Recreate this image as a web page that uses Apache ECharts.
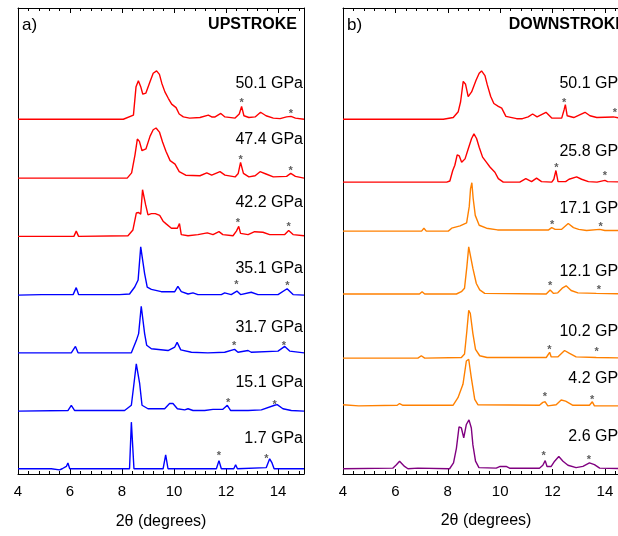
<!DOCTYPE html>
<html>
<head>
<meta charset="utf-8">
<script src="https://cdn.jsdelivr.net/npm/echarts@6/dist/echarts.min.js"></script>
<style>
html,body{margin:0;padding:0;background:#fff;}
#chart{width:618px;height:536px;}
</style>
</head>
<body>
<div id="chart"></div>
<script>
// ---------- DATA (2θ in degrees, intensity in stack units) ----------
// Upstroke patterns
const up_50_1 = [[4,0],[8.05,0],[8.44,0.07],[8.54,0.56],[8.63,0.66],[8.72,0.56],[8.8,0.43],[8.92,0.45],[9.08,0.65],[9.2,0.79],[9.33,0.83],[9.44,0.77],[9.53,0.62],[9.65,0.47],[9.78,0.36],[9.91,0.26],[10.08,0.2],[10.2,0.09],[10.36,0.04],[10.6,0.02],[11.0,0.03],[11.32,0.07],[11.45,0.04],[11.58,0.04],[11.8,0.1],[11.96,0.04],[12.35,0.02],[12.51,0.09],[12.6,0.22],[12.69,0.06],[12.88,0.03],[13.12,0.04],[13.33,0.12],[13.54,0.06],[13.82,0.02],[14.08,0.01],[14.33,0.04],[14.5,0.05],[14.67,0.02],[15,0]];
const up_47_4 = [[4,0],[8.2,0],[8.37,0.09],[8.5,0.4],[8.59,0.67],[8.67,0.63],[8.77,0.47],[8.92,0.5],[9.08,0.72],[9.2,0.83],[9.31,0.86],[9.44,0.79],[9.56,0.62],[9.69,0.46],[9.85,0.3],[10.04,0.24],[10.2,0.11],[10.45,0.05],[11.0,0.04],[11.26,0.09],[11.45,0.05],[11.77,0.11],[11.96,0.05],[12.35,0.02],[12.47,0.08],[12.56,0.27],[12.67,0.08],[12.88,0.02],[13.12,0.04],[13.31,0.11],[13.54,0.07],[13.82,0.02],[14.33,0.03],[14.49,0.08],[14.67,0.03],[15,0]];
const up_42_2 = [[4,0],[6.15,0],[6.24,0.09],[6.33,0],[8.23,0.01],[8.42,0.11],[8.55,0.4],[8.64,0.41],[8.72,0.38],[8.79,0.8],[8.85,0.81],[8.91,0.54],[9.0,0.37],[9.13,0.39],[9.28,0.39],[9.45,0.36],[9.58,0.26],[9.71,0.21],[9.9,0.14],[10.13,0.14],[10.21,0.22],[10.28,0.03],[10.54,0.01],[10.92,0.03],[11.28,0.06],[11.5,0.03],[11.73,0.08],[11.88,0.03],[12.27,0.01],[12.4,0.09],[12.49,0.17],[12.56,0.05],[12.85,0.03],[13.1,0.08],[13.42,0.07],[13.68,0.03],[14.26,0.03],[14.41,0.1],[14.58,0.03],[15,0.01]];
const up_35_1 = [[4,0],[4.9,0.01],[5.3,0.01],[6.12,0.01],[6.24,0.13],[6.33,0.01],[7.5,0.01],[7.9,0.01],[8.29,0.02],[8.49,0.14],[8.62,0.26],[8.72,0.83],[8.79,0.83],[8.87,0.37],[8.97,0.14],[9.13,0.1],[9.51,0.06],[10.03,0.06],[10.15,0.15],[10.28,0.06],[10.54,0.02],[10.73,0.04],[10.92,0.01],[11.82,0.01],[11.95,0.04],[12.2,0.01],[12.42,0.07],[12.56,0.01],[12.97,0.05],[13.23,0.01],[14.0,0.01],[14.35,0.11],[14.58,0.01],[15,0]];
const up_31_7 = [[4,0],[6.05,0],[6.21,0.11],[6.31,0],[8.36,0],[8.55,0.21],[8.64,0.33],[8.74,0.8],[8.81,0.8],[8.87,0.33],[8.95,0.13],[9.13,0.07],[9.77,0.04],[10.03,0.1],[10.12,0.18],[10.26,0.05],[10.67,0.01],[11.3,0],[11.95,0.01],[12.33,0.06],[12.46,0.01],[12.85,0.04],[12.97,0.01],[14.0,0.03],[14.26,0.11],[14.45,0.03],[15,0]];
const up_15_1 = [[4,0],[5.92,0.01],[6.05,0.1],[6.18,0.01],[8.1,0.01],[8.36,0.1],[8.46,0.47],[8.55,0.81],[8.62,0.81],[8.68,0.47],[8.77,0.1],[9.0,0.04],[9.64,0.04],[9.83,0.13],[9.96,0.13],[10.13,0.04],[10.41,0.02],[10.54,0.04],[10.73,0.01],[11.18,0.01],[11.5,0.03],[11.88,0.03],[12.05,0.1],[12.18,0.01],[12.85,0.01],[13.36,0.02],[13.87,0.1],[13.97,0.11],[14.19,0.04],[14.51,0.01],[15,0]];
const up_1_7 = [[4,0],[5.28,0],[5.32,-0.02],[5.6,-0.02],[5.7,0],[5.86,0.04],[5.92,0.1],[5.99,0],[8.29,0],[8.36,0.8],[8.42,0.8],[8.46,0],[9.58,0],[9.68,0.24],[9.77,0],[11.63,0],[11.73,0.14],[11.82,0],[12.3,0],[12.37,0.07],[12.44,0],[13.55,0.02],[13.68,0.17],[13.77,0.1],[13.85,0],[15,0]];

// Downstroke patterns
const dn_50_1 = [[4,0],[7.83,0],[8.21,0.03],[8.4,0.13],[8.49,0.3],[8.59,0.65],[8.68,0.6],[8.78,0.39],[8.91,0.47],[9.08,0.67],[9.2,0.79],[9.29,0.83],[9.42,0.75],[9.51,0.59],[9.64,0.39],[9.76,0.27],[9.93,0.22],[10.06,0.19],[10.22,0.05],[10.63,0.01],[10.85,0.01],[11.07,0.04],[11.24,0.09],[11.41,0.04],[11.75,0.12],[11.97,0.02],[12.35,0.02],[12.44,0.16],[12.49,0.25],[12.56,0.06],[12.81,0.03],[13.24,0.12],[13.43,0.06],[13.69,0.03],[14.32,0.04],[14.6,0.02],[15,0]];
const dn_25_8 = [[4,0],[7.96,0],[8.08,0.02],[8.19,0.2],[8.27,0.29],[8.36,0.47],[8.44,0.45],[8.53,0.34],[8.66,0.4],[8.78,0.57],[8.91,0.75],[9.0,0.83],[9.1,0.75],[9.2,0.6],[9.33,0.43],[9.48,0.34],[9.61,0.26],[9.8,0.17],[9.93,0.06],[10.12,0],[10.75,0],[10.98,0.06],[11.2,0.01],[11.39,0.07],[11.58,0.01],[11.97,0],[12.05,0.05],[12.13,0.2],[12.21,0.01],[12.5,0.01],[12.63,0.05],[12.92,0.09],[13.11,0.05],[13.37,0.01],[13.7,0],[14.0,0.03],[14.1,0.01],[15,0]];
const dn_17_1 = [[4,0],[7.0,0],[7.09,0.05],[7.18,0],[8.02,0],[8.15,0.05],[8.47,0.09],[8.72,0.14],[8.82,0.42],[8.87,0.73],[8.92,0.83],[8.97,0.56],[9.05,0.27],[9.2,0.1],[9.48,0.05],[9.9,0.02],[10.5,0.02],[11.3,0.02],[11.85,0.02],[11.97,0.06],[12.1,0.03],[12.35,0.03],[12.6,0.13],[12.8,0.06],[13.0,0.03],[13.3,0.01],[13.8,0.03],[14.0,0.01],[15,0.01]];
const dn_12_1 = [[4,0],[6.92,0],[7.02,0.04],[7.12,0],[8.33,0],[8.52,0.04],[8.64,0.1],[8.73,0.47],[8.8,0.81],[8.86,0.79],[8.96,0.44],[9.09,0.18],[9.22,0.07],[9.41,0.01],[11.76,0],[11.91,0.07],[12.04,0.01],[12.2,0.02],[12.37,0.1],[12.52,0.14],[12.71,0.06],[12.97,0.02],[13.67,0.01],[15,0]];
const dn_10_2 = [[4,0],[6.86,0],[6.99,0.04],[7.12,0],[8.52,0.01],[8.64,0.07],[8.73,0.47],[8.8,0.82],[8.86,0.77],[8.96,0.42],[9.06,0.15],[9.22,0.04],[9.5,0.01],[11.76,0.01],[11.89,0.1],[11.95,0.02],[12.2,0.02],[12.46,0.13],[12.65,0.08],[12.9,0.02],[13.67,0.01],[15,0]];
const dn_4_2 = [[4,0.02],[4.6,0],[6.07,0.01],[6.16,0.04],[6.29,0.01],[6.93,0.01],[8.2,0.01],[8.39,0.14],[8.58,0.37],[8.71,0.77],[8.8,0.8],[8.9,0.48],[9.03,0.11],[9.15,0.02],[11.5,0.01],[11.63,0.06],[11.72,0.07],[11.82,0],[12.14,0.02],[12.33,0.1],[12.5,0.08],[12.78,0.01],[13.41,0.01],[13.52,0.07],[13.6,0],[15,0]];
const dn_2_6 = [[4,0],[5.9,0.01],[6.04,0.07],[6.16,0.13],[6.35,0.04],[6.48,0],[6.86,0.01],[8.07,0],[8.22,0.1],[8.33,0.35],[8.43,0.72],[8.52,0.7],[8.61,0.53],[8.71,0.76],[8.81,0.84],[8.9,0.7],[8.96,0.41],[9.06,0.13],[9.19,0.02],[9.85,0.01],[10.0,0.04],[10.23,0.04],[10.36,0.01],[11.5,0.01],[11.63,0.06],[11.72,0.14],[11.79,0.04],[11.95,0.04],[12.08,0.13],[12.24,0.21],[12.4,0.13],[12.59,0.06],[12.9,0.02],[13.16,0.04],[13.41,0.1],[13.6,0.07],[13.8,0.01],[15,0]];

// pressures (top to bottom)
const upPressures = ['50.1 GPa','47.4 GPa','42.2 GPa','35.1 GPa','31.7 GPa','15.1 GPa','1.7 GPa'];
const dnPressures = ['50.1 GPa','25.8 GPa','17.1 GPa','12.1 GPa','10.2 GPa','4.2 GPa','2.6 GPa'];
const upPatterns = [up_50_1, up_47_4, up_42_2, up_35_1, up_31_7, up_15_1, up_1_7];
const dnPatterns = [dn_50_1, dn_25_8, dn_17_1, dn_12_1, dn_10_2, dn_4_2, dn_2_6];

// reference-peak markers (*) : [2θ, height above baseline]
const upStars = [
  [[12.6,0.33],[14.5,0.14]],
  [[12.56,0.37],[14.49,0.17]],
  [[12.46,0.28],[14.41,0.21]],
  [[12.4,0.22],[14.36,0.21]],
  [[12.31,0.17],[14.23,0.17]],
  [[12.08,0.19],[13.87,0.16]],
  [[11.73,0.27],[13.55,0.22]]
];
const dnStars = [
  [[12.44,0.33],[14.38,0.16]],
  [[12.15,0.30],[14.0,0.15]],
  [[11.99,0.16],[13.84,0.12]],
  [[11.91,0.19],[13.77,0.12]],
  [[11.88,0.19],[13.68,0.15]],
  [[11.71,0.20],[13.51,0.15]],
  [[11.66,0.27],[13.39,0.21]]
];

// ---------- LAYOUT / STYLE ----------
const upOffsets = [6.09, 5.08, 4.08, 3.07, 2.08, 1.08, 0.09];
const dnOffsets = [6.09, 5.01, 4.17, 3.09, 1.99, 1.17, 0.09];
const upColors = ['#ff0000','#ff0000','#ff0000','#0000ff','#0000ff','#0000ff','#0000ff'];
const dnColors = ['#ff0000','#ff0000','#ff8000','#ff8000','#ff8000','#ff8000','#800080'];
const upLabelY = [84, 140, 203, 269, 328, 383, 439];
const dnLabelY = [84, 152, 209, 272, 332, 379, 437];

const FONT = '"Liberation Sans", Arial, sans-serif';
// right panel is cut by the page edge: visible part spans 4 .. 14.5
const G = [{left:18, top:8, width:286, height:466},{left:343, top:8, width:275, height:466}];
const X_MAX = [15, 14.5];
const AXIS_NAME = '2θ (degrees)';

function xAx(gi, pos, labels, withName){
  return {
    type:'value', gridIndex:gi, position:pos, min:4, max:X_MAX[gi], interval:2,
    axisLine:{show:true, onZero:false, lineStyle:{color:'#000', width:1}},
    axisTick:{show:true, inside:true, length:5, lineStyle:{color:'#000'}},
    minorTick:{show:true, splitNumber:5, length:3, lineStyle:{color:'#000'}},
    splitLine:{show:false},
    axisLabel:{show:labels, color:'#000', fontSize:15, fontFamily:FONT, margin:10, showMaxLabel:false},
    name: withName ? AXIS_NAME : '',
    nameLocation:'middle', nameGap:40,
    nameTextStyle:{color:'#000', fontSize:16, fontFamily:FONT}
  };
}
function yAx(gi, pos, show){
  return {
    type:'value', gridIndex:gi, position:pos, min:0, max:8,
    axisLine:{show:show, onZero:false, lineStyle:{color:'#000', width:1}},
    axisTick:{show:false}, axisLabel:{show:false}, splitLine:{show:false}
  };
}

const series = [];
function addPanel(patterns, offsets, colors, stars, gi){
  patterns.forEach((pat, i) => {
    series.push({
      type:'line', xAxisIndex:gi*2, yAxisIndex:gi*2, showSymbol:false, silent:true, clip:true,
      lineStyle:{color:colors[i], width:1.4}, animation:false,
      data: pat.map(p => [p[0], p[1] + offsets[i]])
    });
  });
  const starData = [];
  stars.forEach((arr, i) => arr.forEach(s => starData.push([s[0], s[1] + offsets[i]])));
  series.push({
    type:'scatter', xAxisIndex:gi*2, yAxisIndex:gi*2, symbolSize:1, silent:true,
    itemStyle:{color:'rgba(0,0,0,0)'}, animation:false,
    label:{show:true, formatter:'*', position:'inside', color:'#333', fontSize:11, fontWeight:'bold', fontFamily:FONT, offset:[0,3]},
    data: starData
  });
}
addPanel(upPatterns, upOffsets, upColors, upStars, 0);
addPanel(dnPatterns, dnOffsets, dnColors, dnStars, 1);

const graphic = [];
function txt(x, y, text, align, size, weight){
  graphic.push({type:'text', x:x, y:y, silent:true,
    style:{text:text, fill:'#000', font:(weight||'normal') + ' ' + size + 'px ' + FONT, textAlign:align, textVerticalAlign:'middle'}});
}
txt(22, 25, 'a)', 'left', 17);
txt(297, 25, 'UPSTROKE', 'right', 16, 'bold');
txt(347, 25, 'b)', 'left', 17);
txt(626, 25, 'DOWNSTROKE', 'right', 16, 'bold');
txt(486, 521, AXIS_NAME, 'center', 16);   // centred on the full (page-cut) right panel
upPressures.forEach((t,i) => txt(303, upLabelY[i], t, 'right', 16));
dnPressures.forEach((t,i) => txt(627, dnLabelY[i], t, 'right', 16));

const chart = echarts.init(document.getElementById('chart'), null, {renderer:'canvas'});
chart.setOption({
  animation:false,
  backgroundColor:'#fff',
  grid:G,
  xAxis:[xAx(0,'bottom',true,true), xAx(0,'top',false,false), xAx(1,'bottom',true,false), xAx(1,'top',false,false)],
  yAxis:[yAx(0,'left',true), yAx(0,'right',true), yAx(1,'left',true), yAx(1,'right',false)],
  series:series,
  graphic:graphic
});
</script>
</body>
</html>
